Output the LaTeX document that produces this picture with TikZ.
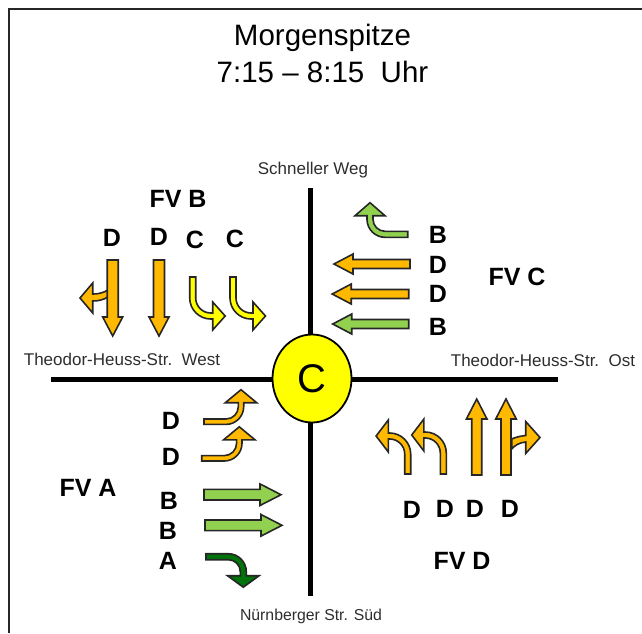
\documentclass[tikz,border=0pt]{standalone}
\usepackage{fontspec}
\setmainfont{Liberation Sans}
\usetikzlibrary{shapes.geometric}

\definecolor{laneorange}{RGB}{255,185,0}
\definecolor{lanelime}{RGB}{146,208,80}
\definecolor{laneyellow}{RGB}{255,255,0}
\definecolor{lanegreen}{RGB}{0,115,10}
\definecolor{roadgray}{RGB}{45,45,45}

\tikzset{
	lanearrow/.style={draw=black!85, line width=1.6pt, line join=miter},
	titletext/.style={font=\fontsize{29.5}{32}\selectfont, inner sep=0pt},
	roadtext/.style={font=\fontsize{17}{20}\selectfont, text=roadgray, inner sep=0pt},
	lanetext/.style={font=\fontsize{25}{28}\selectfont\bfseries, inner sep=0pt},
}

% tail at local origin, heading +x: #3 long, #4 half shaft, #5 half head, #6 head length
\newcommand{\straightarr}[6]{
	\draw[lanearrow, fill=#2, #1] (0,-#4) -- ({#3-#6},-#4) -- ({#3-#6},-#5) -- (#3,0) -- ({#3-#6},#5) -- ({#3-#6},#4) -- (0,#4) -- cycle;
}
% same, with a quarter bend of radius #4 after #3 of shaft and #5 more shaft after it
\newcommand{\turnarr}[8]{
	\draw[lanearrow, fill=#2, #1] (0,-#6)
		-- (#3,-#6) .. controls ({#3+.55*(#4+#6)},-#6) and ({#3+#4+#6},{#4-.55*(#4+#6)}) .. ({#3+#4+#6},#4)
		-- ({#3+#4+#6},{#4+#5}) -- ({#3+#4+#7},{#4+#5}) -- ({#3+#4},{#4+#5+#8}) -- ({#3+#4-#7},{#4+#5}) -- ({#3+#4-#6},{#4+#5})
		-- ({#3+#4-#6},#4) .. controls ({#3+#4-#6},{#4-.55*(#4-#6)}) and ({#3+.55*(#4-#6)},#6) .. (#3,#6)
		-- (0,#6) -- cycle;
}

\begin{document}
\begin{tikzpicture}[x=1pt, y=-1pt]
	\useasboundingbox (0,0) rectangle (642,633);
	\draw[line width=1.8pt, black!85] (9.3,633) -- (9.3,8.6) -- (642,8.6);

	\node[titletext] (title) at (322.5,38) {Morgenspitze};
	\node[titletext] (time) at (322.5,72) {7:15 – 8:15\ \ Uhr};

	% roads
	\draw[line width=5pt] (51,379) -- (558,379);
	\draw[line width=5pt] (310,188) -- (310,596);
	\node[draw, line width=1.8pt, fill=laneyellow, ellipse, minimum width=79pt, minimum height=88pt, inner sep=0pt, font=\fontsize{40}{44}\selectfont] (center) at (312,378.5) {C};

	\node[roadtext] (north) at (313,170) {Schneller Weg};
	\node[roadtext] (west) at (122,359) {Theodor-Heuss-Str.\ \ West};
	\node[roadtext] (east) at (543,360) {Theodor-Heuss-Str.\ \ Ost};
	\node[roadtext, font=\fontsize{15.8}{20}\selectfont] (south) at (311,616) {Nürnberger Str. Süd};

	% FV B
	\node[lanetext] (fvb) at (178,199) {FV B};
	\node[lanetext] (bd1) at (112,238) {D};
	\node[lanetext] (bd2) at (159,237) {D};
	\node[lanetext] (bc1) at (195,240) {C};
	\node[lanetext] (bc2) at (235,239) {C};
	\draw[lanearrow, fill=laneorange] (108,290) .. controls (103,293) and (98,294) .. (92.7,294) -- (92.7,283) -- (80,298) -- (92.7,313) -- (92.7,301) .. controls (98,301) and (103,300) .. (108,297) -- cycle;
	\straightarr{shift={(112.7,260)}, rotate=-90}{laneorange}{76}{5.5}{10}{19}
	\straightarr{shift={(159,260)}, rotate=-90}{laneorange}{76}{5.5}{10}{19}
	\turnarr{shift={(192.7,277)}, rotate=-90, yscale=-1}{laneyellow}{21}{18}{2}{3}{14}{12.5}
	\turnarr{shift={(233,277)}, rotate=-90, yscale=-1}{laneyellow}{21}{18}{2}{3}{14}{12.5}

	% FV C
	\node[lanetext] (fvc) at (517,277) {FV C};
	\node[lanetext] (cb1) at (438,235) {B};
	\node[lanetext] (cd1) at (438,265) {D};
	\node[lanetext] (cd2) at (438,294) {D};
	\node[lanetext] (cb2) at (438,327) {B};
	\turnarr{shift={(407.7,234.3)}, rotate=180}{lanelime}{22.7}{15}{3.6}{3}{15}{13}
	\straightarr{shift={(410,264)}, rotate=180}{laneorange}{76}{4.5}{10}{19}
	\straightarr{shift={(408.7,294)}, rotate=180}{laneorange}{76.5}{4.5}{10}{19}
	\straightarr{shift={(408.7,324)}, rotate=180}{lanelime}{76}{4.5}{10}{19}

	% FV A
	\node[lanetext] (fva) at (88,488) {FV A};
	\node[lanetext] (ad1) at (171,421) {D};
	\node[lanetext] (ad2) at (171,457) {D};
	\node[lanetext] (ab1) at (169,501) {B};
	\node[lanetext] (ab2) at (168,531) {B};
	\node[lanetext] (aa) at (168,561) {A};
	\turnarr{shift={(204,421.7)}, yscale=-1}{laneorange}{22}{15}{4}{2.7}{15.7}{13}
	\turnarr{shift={(201.7,458.3)}, yscale=-1}{laneorange}{22.6}{15}{3.5}{2.7}{15.7}{13}
	\straightarr{shift={(204,494.7)}}{lanelime}{77}{5.3}{10.8}{21}
	\straightarr{shift={(205,525.3)}}{lanelime}{77}{5.3}{10.8}{21}
	\turnarr{shift={(206,556.7)}}{lanegreen}{22.3}{15}{4}{3}{15.8}{11.5}

	% FV D
	\node[lanetext] (fvd) at (462,561) {FV D};
	\node[lanetext] (dd1) at (412,510) {D};
	\node[lanetext] (dd2) at (445,509) {D};
	\node[lanetext] (dd3) at (475,509) {D};
	\node[lanetext] (dd4) at (510,509) {D};
	\turnarr{shift={(407.7,474)}, rotate=90, yscale=-1}{laneorange}{20}{18}{1.4}{3}{16}{12.2}
	\turnarr{shift={(443.3,474)}, rotate=90, yscale=-1}{laneorange}{21}{18}{1.4}{3}{16}{12.2}
	\straightarr{shift={(476.7,475)}, rotate=90}{laneorange}{76}{5}{10.3}{20}
	\draw[lanearrow, fill=laneorange] (511.7,439) .. controls (516,437) and (521,436) .. (525.7,435.5) -- (525.7,421.5) -- (540,437.5) -- (525.7,453.5) -- (525.7,442) .. controls (520,442.5) and (515,445) .. (511.7,449) -- cycle;
	\straightarr{shift={(506,475)}, rotate=90}{laneorange}{76}{5}{10.3}{20}
\end{tikzpicture}
\end{document}
